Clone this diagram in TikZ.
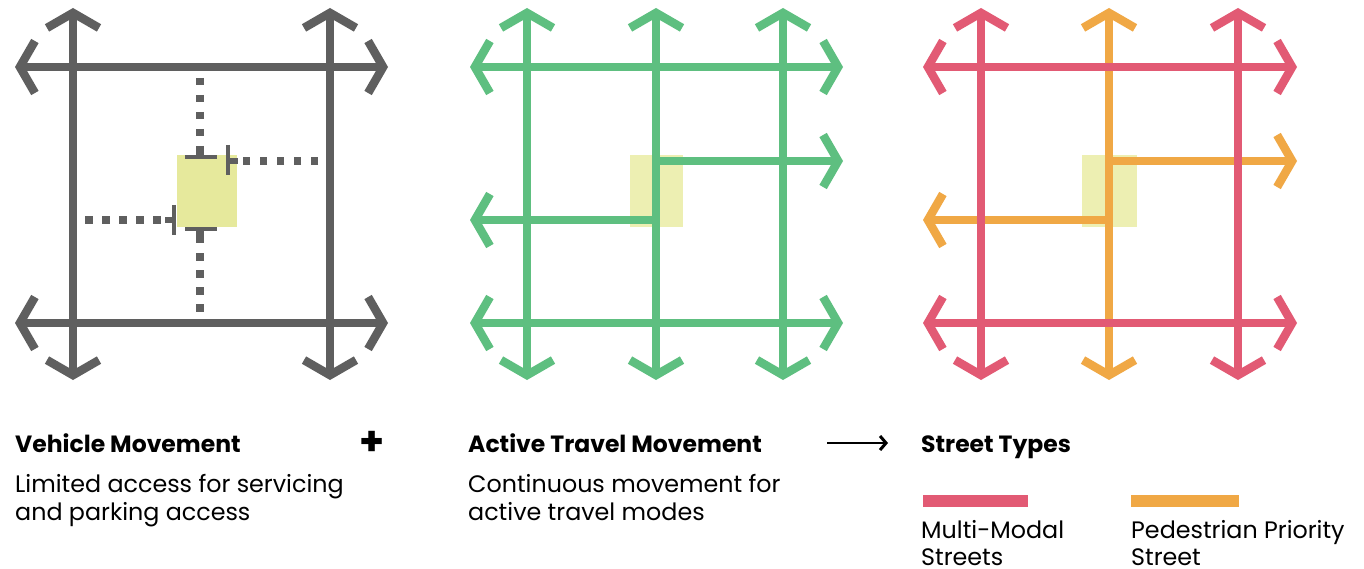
\documentclass[tikz,border=0pt]{standalone}
\usepackage{fontspec}
\setmainfont{Poppins}
\usetikzlibrary{arrows.meta}
\definecolor{vgray}{HTML}{5F5F5F}
\definecolor{agreen}{HTML}{5EBF80}
\definecolor{mred}{HTML}{E25A74}
\definecolor{porange}{HTML}{F0A845}
\definecolor{ylw}{HTML}{E6E99C}
\definecolor{ylwl}{HTML}{EDEFB2}
\tikzset{
  barb/.tip={Straight Barb[length=15pt,width=52pt,line width=8.5pt]},
  street/.style={line width=8.5pt, line cap=butt, barb-barb},
  halfstreet/.style={line width=8.5pt, line cap=butt, -barb},
  dotted line/.style={line width=7.5pt, dash pattern=on 7.5pt off 9.5pt, color=vgray},
  stopbar/.style={line width=4pt, color=vgray},
  heading/.style={anchor=base west, inner sep=0pt, font=\fontsize{23.5}{28}\selectfont\bfseries},
  body/.style={anchor=base west, inner sep=0pt, font=\fontsize{23.8}{28}\selectfont},
}
\begin{document}
\begin{tikzpicture}[x=1pt,y=-1pt]
\useasboundingbox (0,0) rectangle (1364,569);
\fill[white] (0,0) rectangle (1364,569);

% ---------- Panel 1: vehicle movement ----------
\fill[ylw] (177,155) rectangle (237,227);
\coordinate (a1t) at (73,8);   \coordinate (a1b) at (73,380);
\coordinate (a2t) at (330,8);  \coordinate (a2b) at (330,380);
\coordinate (a3l) at (15,67);  \coordinate (a3r) at (388,67);
\coordinate (a4l) at (15,323); \coordinate (a4r) at (388,323);
\draw[street, vgray] (a1t) -- (a1b);
\draw[street, vgray] (a2t) -- (a2b);
\draw[street, vgray] (a3l) -- (a3r);
\draw[street, vgray] (a4l) -- (a4r);
% dotted accesses
\coordinate (d1a) at (200,78);  \coordinate (d1b) at (200,150);
\coordinate (d2a) at (200,236); \coordinate (d2b) at (200,320);
\coordinate (d3a) at (318,161); \coordinate (d3b) at (238,161);
\coordinate (d4a) at (85,220);  \coordinate (d4b) at (165,220);
\draw[dotted line] (d1a) -- (d1b);
\draw[dotted line] (d2a) -- (d2b);
\draw[dotted line] (d3a) -- (d3b);
\draw[dotted line] (d4a) -- (d4b);
% stop bars
\coordinate (s1a) at (185,157); \coordinate (s1b) at (217,157);
\coordinate (s2a) at (185,229); \coordinate (s2b) at (217,229);
\coordinate (s3a) at (228,145); \coordinate (s3b) at (228,175);
\coordinate (s4a) at (174,205); \coordinate (s4b) at (174,235);
\draw[stopbar] (s1a) -- (s1b);
\draw[stopbar] (s2a) -- (s2b);
\draw[stopbar] (s3a) -- (s3b);
\draw[stopbar] (s4a) -- (s4b);
\draw[line width=7.5pt, vgray] (200,150) -- (200,157);
\draw[line width=7.5pt, vgray] (200,229) -- (200,236);
\draw[line width=6pt, vgray] (228,161) -- (238,161);
\draw[line width=6pt, vgray] (165,220) -- (174,220);

% ---------- Panel 2: active travel ----------
\fill[ylwl] (630,155) rectangle (683,227);
\coordinate (g1t) at (527,8);  \coordinate (g1b) at (527,380);
\coordinate (g2t) at (656,8);  \coordinate (g2b) at (656,380);
\coordinate (g3t) at (783,8);  \coordinate (g3b) at (783,380);
\coordinate (g4l) at (470,67); \coordinate (g4r) at (843,67);
\coordinate (g5l) at (470,323);\coordinate (g5r) at (843,323);
\coordinate (g6s) at (656,161);\coordinate (g6e) at (843,161);
\coordinate (g7s) at (656,220);\coordinate (g7e) at (470,220);
\draw[street, agreen] (g1t) -- (g1b);
\draw[street, agreen] (g2t) -- (g2b);
\draw[street, agreen] (g3t) -- (g3b);
\draw[street, agreen] (g4l) -- (g4r);
\draw[street, agreen] (g5l) -- (g5r);
\draw[halfstreet, agreen] (g6s) -- (g6e);
\draw[halfstreet, agreen] (g7s) -- (g7e);

% ---------- Panel 3: street types ----------
\fill[ylwl] (1082,155) rectangle (1137,227);
\coordinate (o1t) at (1109,8);  \coordinate (o1b) at (1109,380);
\coordinate (o2s) at (1109,161);\coordinate (o2e) at (1297,161);
\coordinate (o3s) at (1109,220);\coordinate (o3e) at (923,220);
\draw[street, porange] (o1t) -- (o1b);
\draw[halfstreet, porange] (o2s) -- (o2e);
\draw[halfstreet, porange] (o3s) -- (o3e);
\coordinate (r1t) at (981,8);   \coordinate (r1b) at (981,380);
\coordinate (r2t) at (1238,8);  \coordinate (r2b) at (1238,380);
\coordinate (r3l) at (923,67);  \coordinate (r3r) at (1297,67);
\coordinate (r4l) at (923,323); \coordinate (r4r) at (1297,323);
\draw[street, mred] (r1t) -- (r1b);
\draw[street, mred] (r2t) -- (r2b);
\draw[street, mred] (r3l) -- (r3r);
\draw[street, mred] (r4l) -- (r4r);

% ---------- Texts ----------
\node[heading] (h1) at (15,452) {Vehicle Movement};
\node[body] (b1a) at (15,492) {Limited access for servicing};
\node[body] (b1b) at (15,520) {and parking access};
\node[font=\fontsize{40}{40}\selectfont\bfseries, inner sep=0pt] (plus) at (372,443) {+};

\node[heading] (h2) at (468,452) {Active Travel Movement};
\node[body] (b2a) at (468,492) {Continuous movement for};
\node[body] (b2b) at (468,520) {active travel modes};
\coordinate (arS) at (827,443);
\coordinate (arE) at (888,443);
\draw[line width=2.5pt, -{Straight Barb[length=6pt,width=14pt,line width=3pt]}] (arS) -- (arE);

\node[heading] (h3) at (921,452) {Street Types};
\coordinate (lr1) at (923,501); \coordinate (lr2) at (1028,501);
\coordinate (lo1) at (1131,501); \coordinate (lo2) at (1239,501);
\draw[line width=12pt, mred] (lr1) -- (lr2);
\draw[line width=12pt, porange] (lo1) -- (lo2);
\node[body] (t1a) at (921,538) {Multi-Modal};
\node[body] (t1b) at (921,565) {Streets};
\node[body] (t2a) at (1131,538) {Pedestrian Priority};
\node[body] (t2b) at (1131,565) {Street};
\end{tikzpicture}
\end{document}
